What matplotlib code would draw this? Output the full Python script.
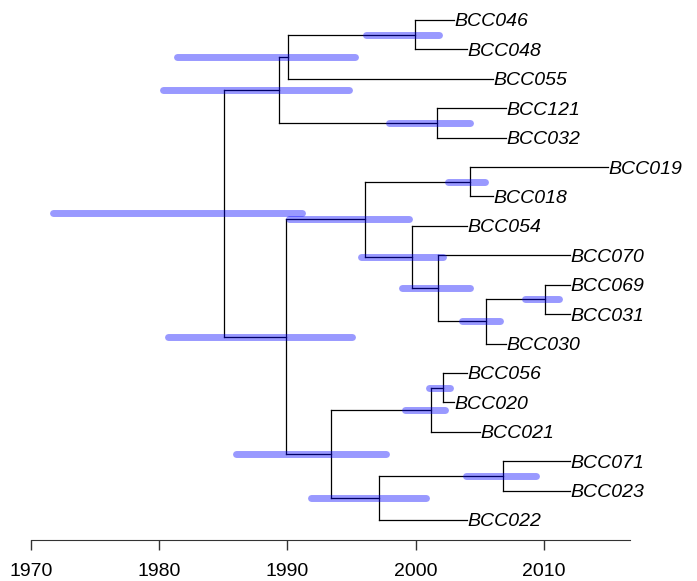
import matplotlib.pyplot as plt

plt.rcParams['font.family'] = ['Liberation Sans', 'DejaVu Sans']

# tips, top to bottom, with sampling year
tip_names = ['BCC046', 'BCC048', 'BCC055', 'BCC121', 'BCC032', 'BCC019', 'BCC018',
             'BCC054', 'BCC070', 'BCC069', 'BCC031', 'BCC030', 'BCC056', 'BCC020',
             'BCC021', 'BCC071', 'BCC023', 'BCC022']
tip_dates = [2003, 2004, 2006, 2007, 2007, 2015, 2006,
             2004, 2012, 2012, 2012, 2007, 2004, 2003,
             2005, 2012, 2012, 2004]

# internal nodes: date and 95% HPD interval
node_names = ['root', 'n1', 'n2', 'n3', 'n4', 'n5', 'n6', 'n7', 'n8',
              'n9', 'n10', 'n11', 'n12', 'n13', 'n14', 'n15', 'n16']
node_dates = [1985.05, 1989.36, 1990.06, 1999.94, 2001.68, 1989.92, 1996.04, 2004.23, 1999.68,
              2001.76, 2005.48, 2010.08, 1993.37, 2001.17, 2002.15, 1997.13, 2006.83]
hpd_low = [1971.7, 1980.3, 1981.4, 1996.1, 1997.9, 1980.7, 1990.1, 2002.55, 1995.7,
           1998.9, 2003.6, 2008.5, 1986.0, 1999.2, 2001.0, 1991.8, 2003.9]
hpd_high = [1991.1, 1994.8, 1995.3, 2001.8, 2004.2, 1995.0, 1999.5, 2005.4, 2002.1,
            2004.2, 2006.55, 2011.2, 1997.7, 2002.3, 2002.7, 2000.8, 2009.35]

# tree topology (parent -> children)
children = {
    'root': ['n1', 'n5'],
    'n1': ['n2', 'n4'],
    'n2': ['n3', 'BCC055'],
    'n3': ['BCC046', 'BCC048'],
    'n4': ['BCC121', 'BCC032'],
    'n5': ['n6', 'n12'],
    'n6': ['n7', 'n8'],
    'n7': ['BCC019', 'BCC018'],
    'n8': ['BCC054', 'n9'],
    'n9': ['BCC070', 'n10'],
    'n10': ['n11', 'BCC030'],
    'n11': ['BCC069', 'BCC031'],
    'n12': ['n13', 'n15'],
    'n13': ['n14', 'BCC021'],
    'n14': ['BCC056', 'BCC020'],
    'n15': ['n16', 'BCC022'],
    'n16': ['BCC071', 'BCC023'],
}

date = dict(zip(tip_names, tip_dates))
date.update(zip(node_names, node_dates))

ypos = {}
n = len(tip_names)
for i, name in enumerate(tip_names):
    ypos[name] = n - i

def get_y(node):
    if node not in ypos:
        ys = [get_y(c) for c in children[node]]
        ypos[node] = sum(ys) / len(ys)
    return ypos[node]

get_y('root')

fig = plt.figure(figsize=(6.97, 5.81), dpi=100)
ax = fig.add_axes([0, 0, 1, 1])

# branches
for parent, kids in children.items():
    ys = [ypos[c] for c in kids]
    ax.plot([date[parent], date[parent]], [min(ys), max(ys)], color='black', linewidth=0.9)
    for c in kids:
        ax.plot([date[parent], date[c]], [ypos[c], ypos[c]], color='black', linewidth=0.9)

# tip labels
for name in tip_names:
    ax.text(date[name] + 0.05, ypos[name], name, fontsize=14, fontstyle='italic',
            ha='left', va='center_baseline')

# HPD bars
for name, lo, hi in zip(node_names, hpd_low, hpd_high):
    ax.plot([lo, hi], [ypos[name], ypos[name]], color='blue', alpha=0.4,
            linewidth=5, solid_capstyle='round')

ax.set_xlim(1967.583, 2021.930)
ax.set_ylim(-1.074, 18.68)

for s in ['top', 'right', 'left']:
    ax.spines[s].set_visible(False)
ax.spines['bottom'].set_position(('data', 0.32))
ax.spines['bottom'].set_bounds(1970, 2016.7)
ax.spines['bottom'].set_color('#333333')
ax.set_yticks([])
ax.set_xticks([1970, 1980, 1990, 2000, 2010])
ax.tick_params(axis='x', direction='out', length=7.2, width=1, colors='#333333',
               labelcolor='black', labelsize=14, pad=9.5)
ax.patch.set_visible(False)

plt.savefig('out.png', dpi=100)
